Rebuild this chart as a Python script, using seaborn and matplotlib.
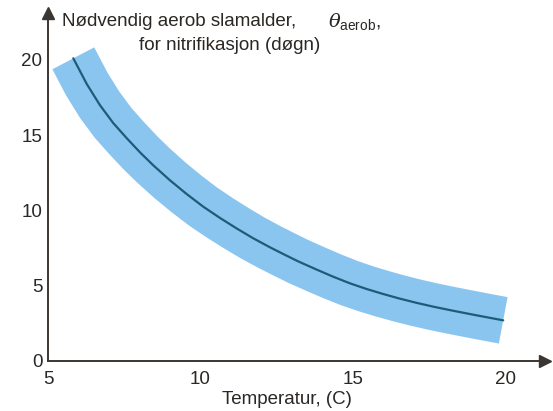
import matplotlib
matplotlib.use("Agg")
import matplotlib.pyplot as plt
import seaborn as sns
import pandas as pd

# values
temperature = [5.83, 6.27, 6.70, 7.14, 7.58, 8.02, 8.45, 9.0, 9.54, 10.09, 10.64,
               11.19, 11.73, 12.28, 12.74, 13.2, 13.81, 14.35, 14.9, 15.45,
               15.99, 16.54, 17.09, 17.63, 18.18, 18.73, 19.27, 19.93]
sludge_age = [20.1, 18.4, 17.0, 15.8, 14.8, 13.85, 13.0, 12.0, 11.1, 10.25, 9.5,
              8.8, 8.15, 7.55, 7.08, 6.62, 6.07, 5.6, 5.16, 4.78,
              4.45, 4.14, 3.86, 3.61, 3.38, 3.16, 2.95, 2.7]
x_ticks = [5, 10, 15, 20]
y_ticks = [0, 5, 10, 15, 20]

df = pd.DataFrame({"T": temperature, "theta": sludge_age})

sns.set_style("white")
plt.rcParams["font.family"] = ["Liberation Sans", "DejaVu Sans"]
plt.rcParams["mathtext.fontset"] = "custom"
plt.rcParams["mathtext.it"] = "DejaVu Serif:italic"
plt.rcParams["mathtext.rm"] = "Liberation Sans"

axis_col = "#3b3631"
text_col = "#2a2724"
band_col = "#8ac5f0"
line_col = "#1d5b78"

fig = plt.figure(figsize=(5.53, 4.11), dpi=100)
ax = fig.add_axes([0.0868, 0.1217, 0.8987, 0.8463])

# uncertainty band drawn as a thick stroke around the curve
sns.lineplot(data=df, x="T", y="theta", ax=ax, color=band_col, linewidth=34,
             solid_capstyle="butt", solid_joinstyle="round", sort=False)
sns.lineplot(data=df, x="T", y="theta", ax=ax, color=line_col, linewidth=1.6,
             sort=False)

ax.set_xlim(5, 21.3)
ax.set_ylim(0, 23.1)
ax.set_xticks(x_ticks)
ax.set_yticks(y_ticks)
ax.tick_params(axis="both", direction="in", colors=axis_col, labelsize=13.5,
               width=1.0, labelcolor=text_col)
ax.tick_params(axis="x", length=9, pad=7)
ax.tick_params(axis="y", length=7, pad=4)

for side in ["top", "right"]:
    ax.spines[side].set_visible(False)
for side in ["left", "bottom"]:
    ax.spines[side].set_color(axis_col)
    ax.spines[side].set_linewidth(1.4)

# arrow heads on the axes
ax.plot(1, 0, ">", transform=ax.transAxes, color=axis_col, markersize=9, clip_on=False)
ax.plot(0, 1, "^", transform=ax.transAxes, color=axis_col, markersize=9, clip_on=False)

ax.set_ylabel("")
ax.set_xlabel("Temperatur, (C)", fontsize=13.5, color=text_col)
ax.xaxis.set_label_coords(0.48, -0.085)

fig.text(62 / 553, 1 - 22 / 411, "Nødvendig aerob slamalder,",
         fontsize=13.5, color=text_col, ha="left", va="center")
fig.text(328 / 553, 1 - 22 / 411, r"$\mathit{\theta}_{\mathrm{aerob}}$,",
         fontsize=14, color=text_col, ha="left", va="center")
fig.text(320 / 553, 1 - 45 / 411, "for nitrifikasjon (døgn)",
         fontsize=13.5, color=text_col, ha="right", va="center")

fig.savefig("out.png", dpi=100)
